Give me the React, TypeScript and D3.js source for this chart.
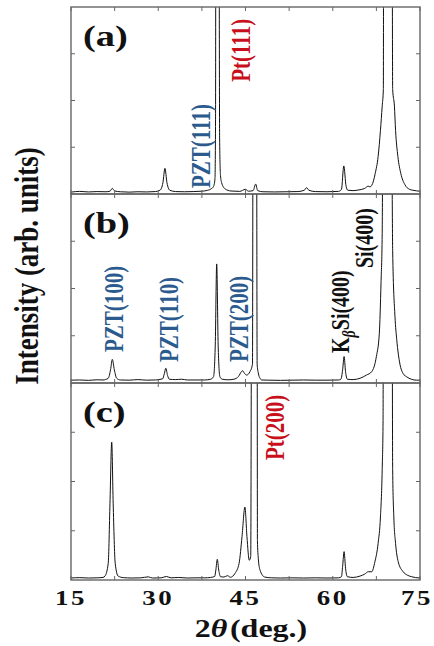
import React from 'react';
import * as d3 from 'd3';

type Pt = [number, number];

// 2theta (deg), intensity (arb., panel top = 100)
const panelA: Pt[] = [
  [15.0, 1.0], [16.5, 1.4], [18.0, 1.1], [19.5, 1.3], [21.0, 1.2], [21.7, 1.5], [22.1, 3.0], [22.5, 1.6],
  [23.5, 1.2], [25.0, 1.0], [26.5, 1.2], [28.0, 1.1], [29.5, 1.3], [30.3, 2.0], [30.8, 6.0], [31.15, 13.7],
  [31.5, 6.0], [32.0, 2.0], [33.0, 1.3], [34.5, 1.2], [36.0, 1.3], [37.5, 1.5], [38.5, 2.0], [39.2, 3.0],
  [39.5, 4.0], [39.75, 8], [39.85, 40], [39.9, 150], [40.45, 150], [40.55, 30], [40.7, 10], [40.9, 6],
  [41.5, 2.7], [42.5, 1.6], [44.0, 1.4], [45.0, 2.5], [45.5, 1.5], [46.3, 1.8], [46.75, 5.3], [47.1, 1.8],
  [48.0, 1.2], [50.0, 1.1], [52.0, 1.2], [54.0, 1.3], [55.1, 2.0], [55.5, 3.4], [55.9, 2.0], [57.0, 1.3],
  [59.0, 1.2], [61.0, 1.4], [61.5, 2.5], [61.9, 15], [62.3, 4], [62.6, 2.0], [63.5, 1.8], [64.5, 2.2],
  [65.5, 3.0], [66.1, 4.2], [66.4, 3.8], [67.0, 7], [67.3, 11], [67.8, 20], [68.2, 34], [68.5, 47],
  [68.7, 56], [68.75, 150], [70.2, 150], [70.3, 56], [70.6, 47], [70.8, 34], [71.2, 20], [71.7, 11],
  [72.4, 5], [73.2, 2.5], [73.8, 2.0], [75.0, 1.5],
];

const panelB: Pt[] = [
  [15.0, 1.5], [16.5, 1.6], [18.0, 1.4], [19.5, 1.7], [20.5, 1.6], [21.4, 2.5], [21.8, 7], [22.1, 12.5],
  [22.45, 7], [22.85, 2.5], [23.5, 1.6], [25.0, 1.5], [26.5, 1.8], [28.0, 1.5], [29.5, 1.6], [30.75, 2.2],
  [31.05, 5], [31.3, 7.8], [31.6, 4], [31.9, 2.0], [33.0, 1.8], [34.0, 2.0], [35.0, 1.6], [36.5, 1.6],
  [38.0, 1.6], [39.0, 2.0], [39.5, 3.3], [39.8, 20], [40.05, 63], [40.3, 20], [40.6, 3.3], [41.0, 2.0],
  [42.0, 1.7], [43.0, 2.0], [43.8, 3.5], [44.3, 6.0], [44.5, 6.5], [44.8, 5.2], [45.2, 4.2], [45.77, 6],
  [46.2, 10], [46.3, 150], [46.9, 150], [47.0, 10], [47.2, 5.3], [47.5, 2.5], [47.8, 1.6], [49.0, 1.5],
  [51.0, 1.4], [53.0, 1.5], [55.0, 1.6], [57.0, 1.5], [59.0, 1.5], [61.0, 1.6], [61.4, 2.0], [61.7, 7],
  [61.95, 14], [62.2, 6], [62.5, 2.0], [63.5, 1.8], [64.7, 2.5], [65.8, 4.2], [66.7, 6], [67.5, 14],
  [68.0, 26], [68.3, 53], [68.5, 79], [68.65, 150], [70.1, 150], [70.3, 70], [70.7, 35], [71.0, 23],
  [71.55, 10], [72.1, 5], [72.7, 3.3], [73.5, 2.0], [74.4, 1.5], [75.0, 1.5],
];

const panelC: Pt[] = [
  [15.0, 1.0], [16.5, 1.2], [18.0, 1.0], [19.5, 1.1], [20.5, 1.3], [20.85, 2.0], [21.4, 8.5], [21.7, 39],
  [22.0, 70], [22.25, 39], [22.6, 8.5], [23.1, 2.0], [24.0, 1.2], [25.5, 1.0], [27.0, 1.1], [28.3, 1.6],
  [29.0, 1.0], [30.5, 1.1], [31.4, 1.8], [32.2, 1.1], [33.5, 1.3], [35.0, 1.0], [36.5, 1.1], [38.0, 1.1],
  [39.0, 1.3], [39.7, 1.8], [39.9, 5], [40.15, 10.5], [40.4, 5], [40.7, 1.7], [41.3, 1.5], [41.9, 2.2],
  [42.4, 1.4], [43.2, 3.4], [43.9, 8.5], [44.4, 22], [44.9, 37], [45.25, 22], [45.65, 10], [45.9, 12],
  [46.05, 150], [47.0, 150], [47.05, 20], [47.2, 11], [47.5, 5], [48.3, 1.5], [49.5, 1.1], [51.0, 1.0],
  [53.0, 1.1], [55.0, 1.0], [57.0, 1.1], [59.0, 1.0], [61.0, 1.1], [61.5, 1.7], [61.7, 7], [61.95, 14.4],
  [62.2, 6], [62.5, 1.7], [63.5, 1.3], [64.7, 2.0], [65.5, 3.0], [66.1, 4.2], [66.7, 4.2], [67.25, 9.3],
  [67.8, 18.6], [68.2, 32], [68.5, 56], [68.65, 81], [68.7, 150], [70.2, 150], [70.3, 56], [70.5, 32],
  [70.8, 18.6], [71.25, 9.3], [72.1, 4.2], [72.8, 2.5], [73.5, 1.7], [75.0, 1.0],
];

const panelNames = ['(a)', '(b)', '(c)'];
const xTickValues = [15, 22.5, 30, 37.5, 45, 52.5, 60, 67.5, 75];
const xTickLabels = [15, 30, 45, 60, 75];
const yTickValues = [25, 50, 75];

const BLUE = '#2b5b8e';
const RED = '#c8101c';

// peak annotations: panel index, text, anchor in data coords
const peakLabels = [
  { panel: 0, text: 'PZT(111)', theta: 38.9, level: 3.2, color: BLUE },
  { panel: 0, text: 'Pt(111)', theta: 45.8, level: 60, color: RED },
  { panel: 1, text: 'PZT(100)', theta: 23.9, level: 16.4, color: BLUE },
  { panel: 1, text: 'PZT(110)', theta: 33.4, level: 11.1, color: BLUE },
  { panel: 1, text: 'PZT(200)', theta: 45.4, level: 11.1, color: BLUE },
  { panel: 1, text: 'Si(400)', theta: 66.9, level: 60.8, color: '#111' },
  { panel: 2, text: 'Pt(200)', theta: 51.6, level: 60.9, color: RED },
];

const W = 434;
const H = 646;
const LEFT = 71;
const RIGHT = 420;
const EDGES = [7, 194, 383, 580];
const KX = 1.28; // glyphs in the figure are wider than tall
const FONT = '"Liberation Serif", "Times New Roman", serif';

export default function App() {
  const x = d3.scaleLinear().domain([15, 75]).range([LEFT, RIGHT]);
  const series = [panelA, panelB, panelC];

  const panels = series.map((data, i) => {
    const top = EDGES[i];
    const bottom = EDGES[i + 1];
    const y = d3.scaleLinear().domain([0, 100]).range([bottom, top]);
    const line = d3
      .line<Pt>()
      .x((d) => x(d[0]))
      .y((d) => y(d[1]))
      .curve(d3.curveMonotoneX);
    return { data, top, bottom, y, path: line(data) || '' };
  });

  const rot = (px: number, py: number) => `translate(${px},${py}) scale(${KX},1) rotate(-90)`;

  return (
    <svg width={W} height={H} style={{ position: 'absolute', left: 0, top: 0, background: '#fff' }}>
      <defs>
        {panels.map((p, i) => (
          <clipPath id={`clip${i}`} key={i}>
            <rect x={LEFT} y={p.top} width={RIGHT - LEFT} height={p.bottom - p.top} />
          </clipPath>
        ))}
      </defs>

      {panels.map((p, i) => (
        <g key={i}>
          <path d={p.path} fill="none" stroke="#111" strokeWidth={1} clipPath={`url(#clip${i})`} />
          <rect x={LEFT} y={p.top} width={RIGHT - LEFT} height={p.bottom - p.top} fill="none" stroke="#666" strokeWidth={1.4} />
          {xTickValues.map((t) => (
            <g key={t}>
              <line x1={x(t)} x2={x(t)} y1={p.bottom} y2={p.bottom - 4} stroke="#666" />
              <line x1={x(t)} x2={x(t)} y1={p.top} y2={p.top + 4} stroke="#666" />
            </g>
          ))}
          {yTickValues.map((v) => (
            <g key={v}>
              <line x1={LEFT} x2={LEFT + 4} y1={p.y(v)} y2={p.y(v)} stroke="#666" />
              <line x1={RIGHT} x2={RIGHT - 4} y1={p.y(v)} y2={p.y(v)} stroke="#666" />
            </g>
          ))}
          <text
            transform={`translate(${LEFT + 12},${p.top + 39}) scale(${KX},1)`}
            fontFamily={FONT}
            fontWeight="bold"
            fontSize={30}
            fill="#111"
          >
            {panelNames[i]}
          </text>
        </g>
      ))}

      {peakLabels.map((l) => (
        <text
          key={l.text + l.panel}
          transform={rot(x(l.theta), panels[l.panel].y(l.level))}
          fontFamily={FONT}
          fontWeight="bold"
          fontSize={l.color === '#111' ? 20 : 21}
          fill={l.color}
        >
          {l.text}
        </text>
      ))}

      <text
        transform={rot(x(62.8), panels[1].y(15.9))}
        fontFamily={FONT}
        fontWeight="bold"
        fontSize={20}
        fill="#111"
      >
        <tspan>K</tspan>
        <tspan fontStyle="italic" fontSize={14} dy={5}>β</tspan>
        <tspan dy={-5}>Si(400)</tspan>
      </text>

      {xTickLabels.map((t, i) => (
        <text
          key={t}
          transform={`translate(${x(t) + (i === xTickLabels.length - 1 ? -3 : 0)},605) scale(${KX},1)`}
          textAnchor="middle"
          fontFamily={FONT}
          fontWeight="bold"
          fontSize={21}
          letterSpacing={2}
          fill="#111"
        >
          {t}
        </text>
      ))}

      <text
        transform={`translate(251,637) scale(${KX},1)`}
        textAnchor="middle"
        fontFamily={FONT}
        fontWeight="bold"
        fontSize={25}
        fill="#111"
      >
        <tspan>2</tspan>
        <tspan fontStyle="italic">θ</tspan>
        <tspan dx={2}>(deg.)</tspan>
      </text>

      <text
        transform={`translate(38,266) scale(${KX},1) rotate(-90)`}
        textAnchor="middle"
        fontFamily={FONT}
        fontWeight="bold"
        fontSize={27}
        fill="#111"
      >
        Intensity (arb. units)
      </text>
    </svg>
  );
}
